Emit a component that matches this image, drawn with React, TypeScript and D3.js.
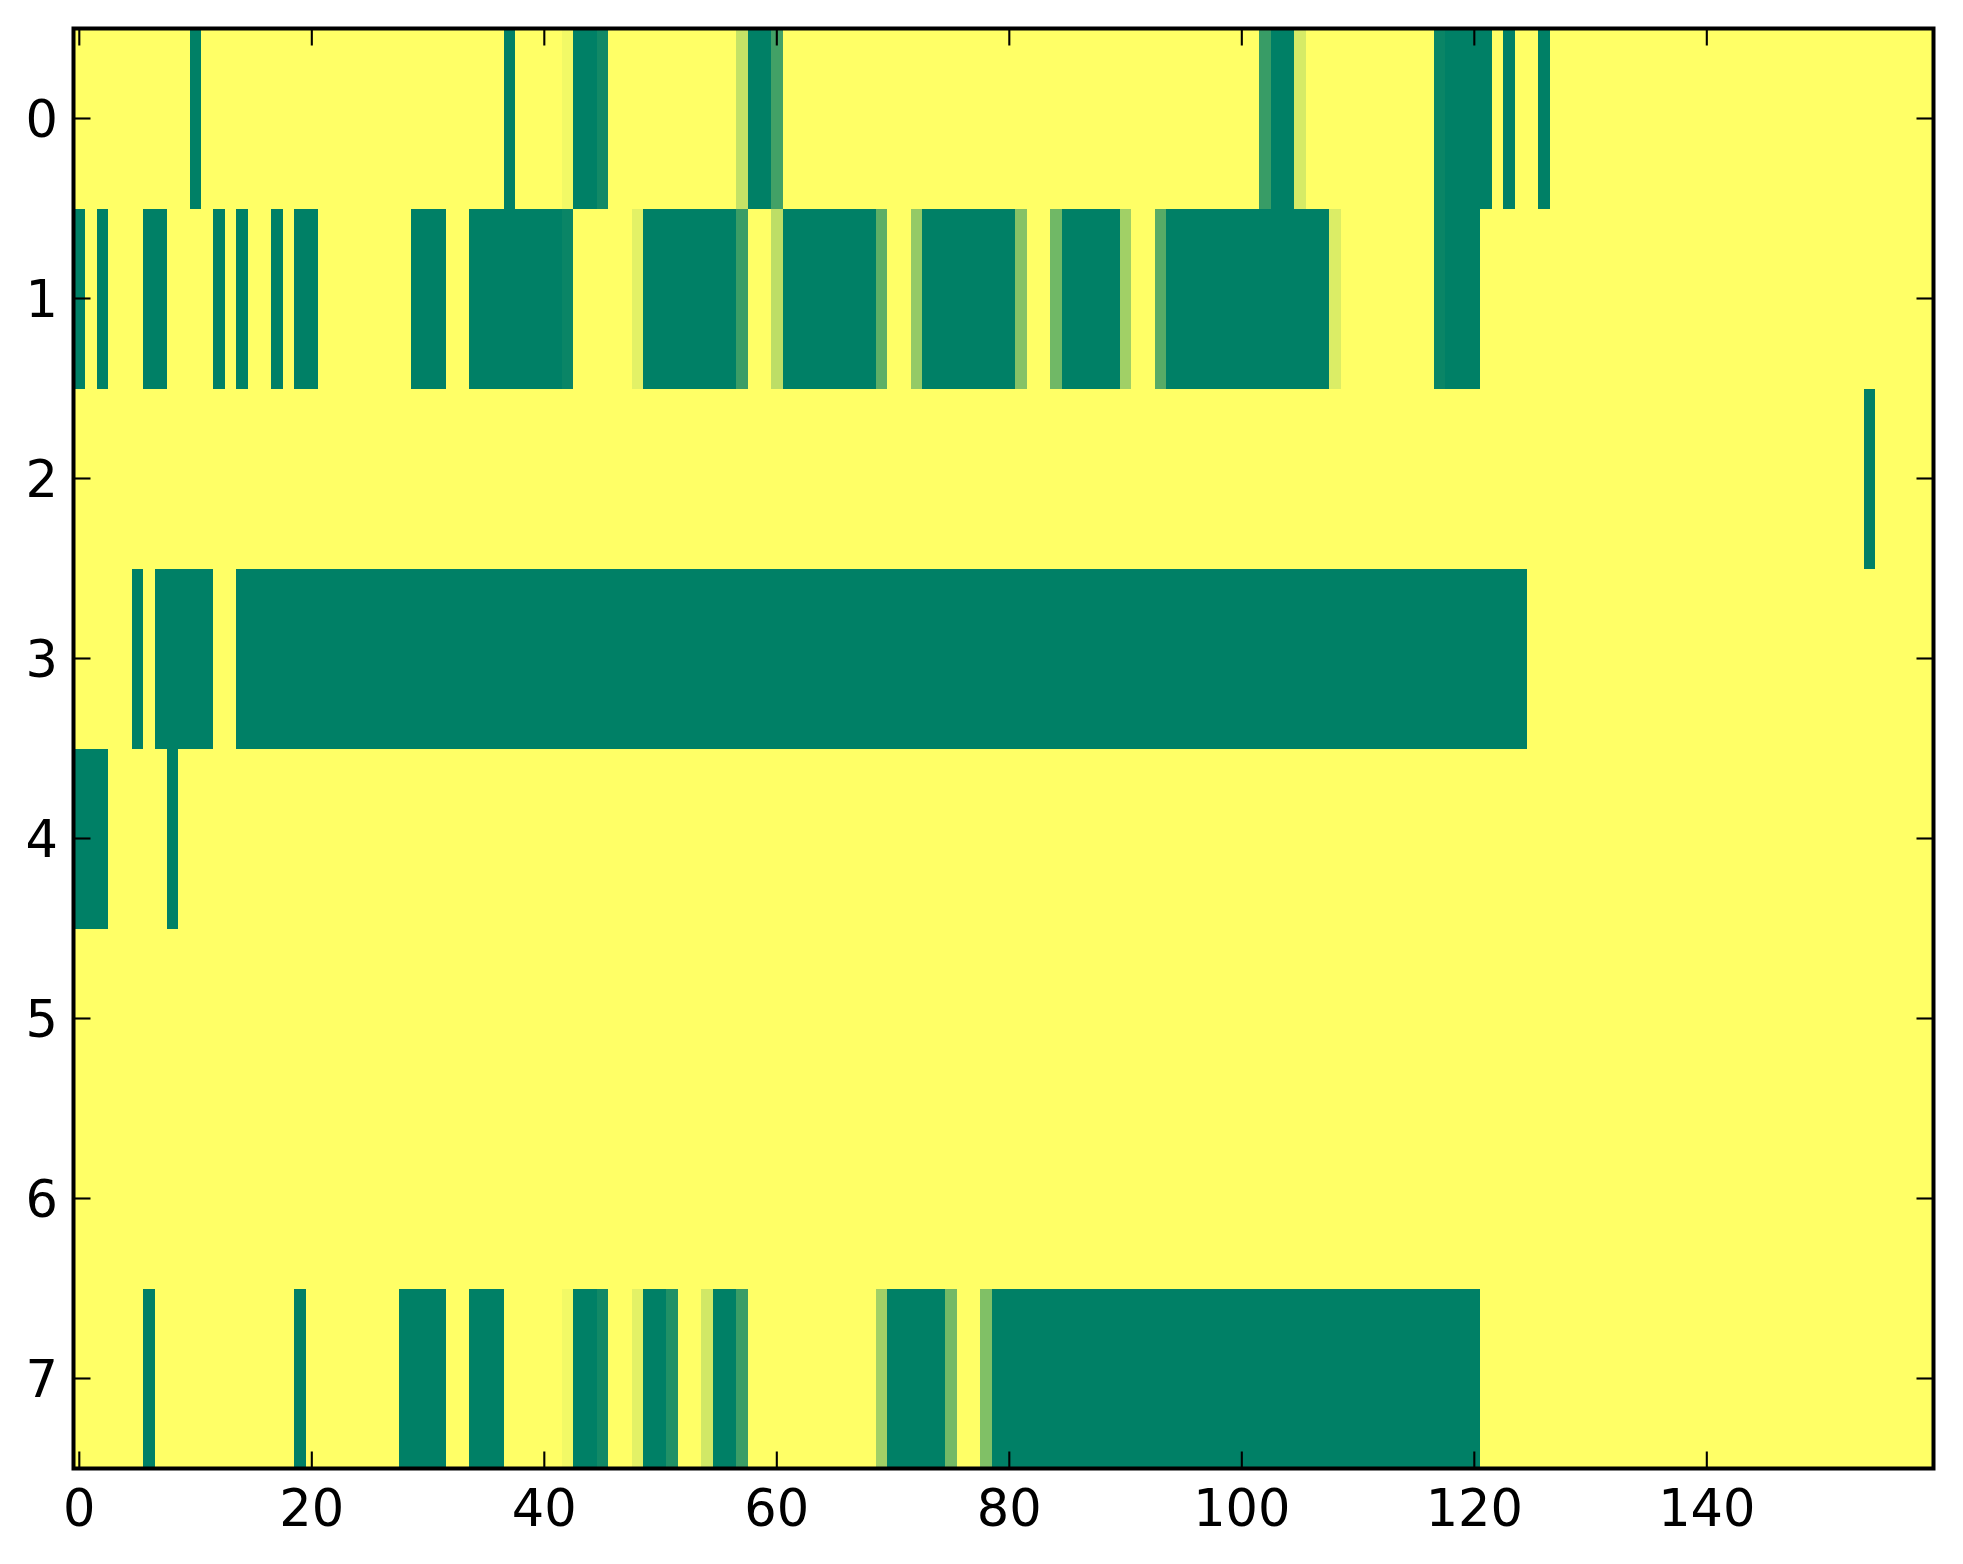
import React from 'react';
import * as d3 from 'd3';

// rows of the matrix, top to bottom
const rowLabels = [0, 1, 2, 3, 4, 5, 6, 7];
const nCols = 160;
const xTicks = [0, 20, 40, 60, 80, 100, 120, 140];

// cells that are not 1.0, as [firstCol, lastCol, value]
const row0 = [
  [10, 10, 0], [37, 37, 0], [42, 42, 0.95], [43, 44, 0], [45, 45, 0.07],
  [57, 57, 0.77], [58, 59, 0], [60, 60, 0.26], [102, 102, 0.22], [103, 104, 0],
  [105, 105, 0.84], [117, 117, 0.04], [118, 121, 0], [123, 123, 0], [126, 126, 0],
];
const row1 = [
  [0, 0, 0], [2, 2, 0], [6, 7, 0], [12, 12, 0], [14, 14, 0], [17, 17, 0],
  [19, 20, 0], [29, 31, 0], [34, 41, 0], [42, 42, 0.04], [48, 48, 0.89],
  [49, 56, 0], [57, 57, 0.23], [60, 60, 0.74], [61, 68, 0], [69, 69, 0.37],
  [72, 72, 0.58], [73, 80, 0], [81, 81, 0.52], [84, 84, 0.44], [85, 89, 0],
  [90, 90, 0.63], [93, 93, 0.34], [94, 107, 0], [108, 108, 0.86],
  [117, 117, 0.04], [118, 120, 0],
];
const row2 = [[154, 154, 0]];
const row3 = [[5, 5, 0], [7, 11, 0], [14, 124, 0]];
const row4 = [[0, 2, 0], [8, 8, 0]];
const row5: number[][] = [];
const row6: number[][] = [];
const row7 = [
  [6, 6, 0], [19, 19, 0], [28, 31, 0], [34, 36, 0], [42, 42, 0.95], [43, 44, 0],
  [45, 45, 0.07], [48, 48, 0.89], [49, 50, 0], [51, 51, 0.13], [54, 54, 0.82],
  [55, 56, 0], [57, 57, 0.23], [69, 69, 0.63], [70, 74, 0], [75, 75, 0.45],
  [78, 78, 0.5], [79, 120, 0],
];
const rows = [row0, row1, row2, row3, row4, row5, row6, row7];

const W = 1963;
const H = 1564;
const plot = { left: 73.5, right: 1933.5, top: 28.5, bottom: 1468.5 };
const font = 'DejaVu Sans, sans-serif';

export default function App() {
  const x = d3.scaleLinear().domain([-0.5, nCols - 0.5]).range([plot.left, plot.right]);
  const y = d3.scaleLinear().domain([-0.5, rowLabels.length - 0.5]).range([plot.top, plot.bottom]);
  // matplotlib "summer"
  const color = d3.scaleLinear<string>().domain([0, 1]).range(['#008066', '#ffff66']).interpolate(d3.interpolateRgb);

  const cells: { r: number; c0: number; c1: number; v: number }[] = [];
  rows.forEach((runs, r) => {
    runs.forEach(([c0, c1, v]) => cells.push({ r, c0, c1, v }));
  });

  const tickLen = 17;
  const tickW = 2.1;

  return (
    <div style={{ position: 'absolute', left: 0, top: 0 }}>
      <svg width={W} height={H} style={{ display: 'block', background: '#fff' }}>
        <rect
          x={plot.left}
          y={plot.top}
          width={plot.right - plot.left}
          height={plot.bottom - plot.top}
          fill={color(1)}
        />
        {cells.map((d, i) => (
          <rect
            key={i}
            x={x(d.c0 - 0.5)}
            y={y(d.r - 0.5)}
            width={x(d.c1 + 0.5) - x(d.c0 - 0.5)}
            height={y(d.r + 0.5) - y(d.r - 0.5)}
            fill={color(d.v)}
            shapeRendering="crispEdges"
          />
        ))}

        {/* x ticks, bottom and top, inward */}
        {xTicks.map((t) => (
          <g key={'x' + t}>
            <line x1={x(t)} x2={x(t)} y1={plot.bottom} y2={plot.bottom - tickLen} stroke="#000" strokeWidth={tickW} />
            <line x1={x(t)} x2={x(t)} y1={plot.top} y2={plot.top + tickLen} stroke="#000" strokeWidth={tickW} />
            <text x={x(t)} y={1526} textAnchor="middle" fontFamily={font} fontSize={51}>
              {t}
            </text>
          </g>
        ))}

        {/* y ticks, left and right, inward */}
        {rowLabels.map((t) => (
          <g key={'y' + t}>
            <line x1={plot.left} x2={plot.left + tickLen} y1={y(t)} y2={y(t)} stroke="#000" strokeWidth={tickW} />
            <line x1={plot.right} x2={plot.right - tickLen} y1={y(t)} y2={y(t)} stroke="#000" strokeWidth={tickW} />
            <text x={58} y={y(t) + 18.5} textAnchor="end" fontFamily={font} fontSize={51}>
              {t}
            </text>
          </g>
        ))}

        <rect
          x={plot.left}
          y={plot.top}
          width={plot.right - plot.left}
          height={plot.bottom - plot.top}
          fill="none"
          stroke="#000"
          strokeWidth={4}
        />
      </svg>
    </div>
  );
}
